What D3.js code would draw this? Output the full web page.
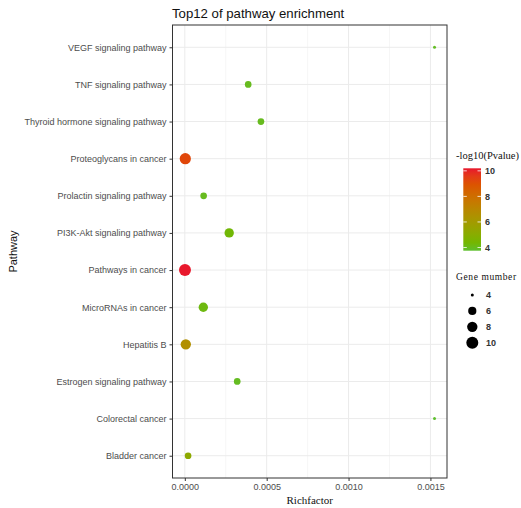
<!DOCTYPE html>
<html>
<head>
<meta charset="utf-8">
<script src="https://cdn.jsdelivr.net/npm/d3@7"></script>
<style>
  body { margin: 0; background: #fff; }
  svg { display: block; }
</style>
</head>
<body>
<svg id="chart" width="521" height="508"></svg>
<script>
// pathways, top to bottom as drawn
const pathways = ['VEGF signaling pathway', 'TNF signaling pathway', 'Thyroid hormone signaling pathway',
  'Proteoglycans in cancer', 'Prolactin signaling pathway', 'PI3K-Akt signaling pathway',
  'Pathways in cancer', 'MicroRNAs in cancer', 'Hepatitis B', 'Estrogen signaling pathway',
  'Colorectal cancer', 'Bladder cancer'];
const richFactor = [0.001525, 0.000387, 0.000465, 0.000003, 0.000115, 0.000271,
  0.000001, 0.000113, 0.000006, 0.000320, 0.001525, 0.000020];
const logP = [3.9, 4.0, 4.0, 9.3, 4.0, 4.3, 10.2, 4.2, 6.6, 3.95, 3.75, 5.2];
const geneNum = [4, 5, 5, 9, 5, 7, 10, 7, 8, 5, 4, 5];

const xTicks = [0, 0.0005, 0.001, 0.0015];
const xMinor = [0.00025, 0.00075, 0.00125];
const colorTicks = [4, 6, 8, 10];
const sizeBreaks = [4, 6, 8, 10];

const svg = d3.select('#chart');
const pLeft = 172.5, pRight = 447, pTop = 25, pBottom = 478;

// ggplot-like 5% expansion around the data range
const xMin = d3.min(richFactor), xMax = d3.max(richFactor);
const pad = (xMax - xMin) * 0.05;
const x = d3.scaleLinear().domain([xMin - pad, xMax + pad]).range([pLeft, pRight]);

const y = d3.scalePoint().domain(pathways).range([pTop, pBottom]).padding(0.6);

const cMin = d3.min(logP), cMax = d3.max(logP);
const color = d3.scaleLinear().domain([cMin, cMax])
  .range(['#5dbf2d', '#e8182c']).interpolate(d3.interpolateHcl);

// area-style size scale: radius grows with sqrt of the rescaled value
const nMin = d3.min(geneNum), nMax = d3.max(geneNum);
const rLin = d3.scaleLinear().domain([0, 1]).range([1.5, 6.0]);
const radius = v => rLin(Math.sqrt((v - nMin) / (nMax - nMin)));

// grid
const g = svg.append('g');
g.selectAll('.minor').data(xMinor).enter().append('line')
  .attr('x1', d => x(d)).attr('x2', d => x(d)).attr('y1', pTop).attr('y2', pBottom)
  .attr('stroke', '#f0f0f0').attr('stroke-width', 0.6);
g.selectAll('.major').data(xTicks).enter().append('line')
  .attr('x1', d => x(d)).attr('x2', d => x(d)).attr('y1', pTop).attr('y2', pBottom)
  .attr('stroke', '#ebebeb').attr('stroke-width', 1);
g.selectAll('.ygrid').data(pathways).enter().append('line')
  .attr('x1', pLeft).attr('x2', pRight).attr('y1', d => y(d)).attr('y2', d => y(d))
  .attr('stroke', '#ebebeb').attr('stroke-width', 1);

// points
const pts = pathways.map((p, i) => ({ p, rf: richFactor[i], lp: logP[i], n: geneNum[i] }));
svg.append('g').selectAll('circle').data(pts).enter().append('circle')
  .attr('cx', d => x(d.rf)).attr('cy', d => y(d.p))
  .attr('r', d => radius(d.n))
  .attr('fill', d => color(d.lp));

// panel border
svg.append('rect').attr('x', pLeft).attr('y', pTop)
  .attr('width', pRight - pLeft).attr('height', pBottom - pTop)
  .attr('fill', 'none').attr('stroke', '#333').attr('stroke-width', 1);

// axes
const xAxis = svg.append('g').attr('transform', `translate(0,${pBottom})`)
  .call(d3.axisBottom(x).tickValues(xTicks).tickFormat(d3.format('.4f')).tickSize(3).tickPadding(3));
const yAxis = svg.append('g').attr('transform', `translate(${pLeft},0)`)
  .call(d3.axisLeft(y).tickSize(3).tickPadding(3));
[xAxis, yAxis].forEach(a => {
  a.select('.domain').remove();
  a.selectAll('.tick line').attr('stroke', '#333');
  a.selectAll('.tick text').attr('fill', '#4d4d4d')
    .style('font-family', 'Liberation Sans, Arial, sans-serif').style('font-size', '9px');
});

// titles
svg.append('text').attr('x', 172).attr('y', 18)
  .style('font-family', 'Liberation Sans, Arial, sans-serif').style('font-size', '13.2px')
  .attr('fill', '#111').text('Top12 of pathway enrichment');
svg.append('text').attr('x', (pLeft + pRight) / 2).attr('y', 504).attr('text-anchor', 'middle')
  .style('font-family', 'Liberation Serif, Times New Roman, serif').style('font-size', '11px')
  .attr('fill', '#111').text('Richfactor');
svg.append('text').attr('transform', `translate(17,${(pTop + pBottom) / 2}) rotate(-90)`)
  .attr('text-anchor', 'middle')
  .style('font-family', 'Liberation Sans, Arial, sans-serif').style('font-size', '11px')
  .attr('fill', '#111').text('Pathway');

// colour legend
const barX = 463.3, barW = 17.7, barTop = 168.3, barBot = 250.7;
const cy = d3.scaleLinear().domain([cMin, cMax]).range([barBot, barTop]);
const defs = svg.append('defs');
const grad = defs.append('linearGradient').attr('id', 'cgrad')
  .attr('x1', 0).attr('y1', 1).attr('x2', 0).attr('y2', 0);
d3.range(0, 1.0001, 0.1).forEach(t => {
  grad.append('stop').attr('offset', t).attr('stop-color', color(cMin + t * (cMax - cMin)));
});
svg.append('text').attr('x', 456).attr('y', 159)
  .style('font-family', 'Liberation Serif, Times New Roman, serif').style('font-size', '10.5px')
  .attr('fill', '#111').text('-log10(Pvalue)');
svg.append('rect').attr('x', barX).attr('y', barTop).attr('width', barW).attr('height', barBot - barTop)
  .attr('fill', 'url(#cgrad)');
const cl = svg.append('g');
cl.selectAll('.tl').data(colorTicks).enter().append('line')
  .attr('x1', barX).attr('x2', barX + 3.5).attr('y1', d => cy(d)).attr('y2', d => cy(d))
  .attr('stroke', '#fff').attr('stroke-width', 0.8);
cl.selectAll('.tr').data(colorTicks).enter().append('line')
  .attr('x1', barX + barW - 3.5).attr('x2', barX + barW).attr('y1', d => cy(d)).attr('y2', d => cy(d))
  .attr('stroke', '#fff').attr('stroke-width', 0.8);
cl.selectAll('text').data(colorTicks).enter().append('text')
  .attr('x', 485).attr('y', d => cy(d) + 3.2)
  .style('font-family', 'Liberation Sans, Arial, sans-serif').style('font-size', '9px')
  .style('font-weight', 'bold').attr('fill', '#333').text(d => d);

// size legend
svg.append('text').attr('x', 456).attr('y', 280)
  .style('font-family', 'Liberation Serif, Times New Roman, serif').style('font-size', '9.5px')
  .style('letter-spacing', '0.6px')
  .attr('fill', '#111').text('Gene mumber');
const sy = d3.scalePoint().domain(sizeBreaks).range([295, 342.7]);
const sl = svg.append('g');
sl.selectAll('circle').data(sizeBreaks).enter().append('circle')
  .attr('cx', 472.3).attr('cy', d => sy(d)).attr('r', d => radius(d)).attr('fill', '#000');
sl.selectAll('text').data(sizeBreaks).enter().append('text')
  .attr('x', 486).attr('y', d => sy(d) + 3.2)
  .style('font-family', 'Liberation Sans, Arial, sans-serif').style('font-size', '9px')
  .style('font-weight', 'bold').attr('fill', '#333').text(d => d);
</script>
</body>
</html>
